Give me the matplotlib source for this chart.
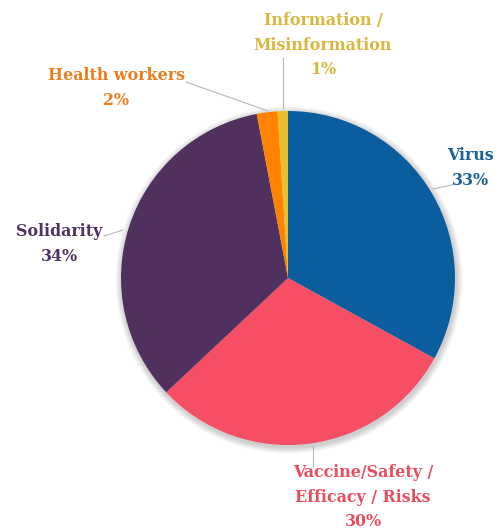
import matplotlib
matplotlib.use("Agg")
import matplotlib.pyplot as plt
from matplotlib.patches import Circle

# Topic shares (percent)
categories = ["Virus", "Vaccine/Safety /\nEfficacy / Risks", "Solidarity",
              "Health workers", "Information /\nMisinformation"]
shares = [33, 30, 34, 2, 1]
slice_colors = ["#0b5e9d", "#f64f64", "#50305f", "#ff8200", "#e8bf2a"]
text_colors = ["#1a5f97", "#e84e5e", "#4f3462", "#ec7d1e", "#d8b840"]

W, H = 500, 529
fig = plt.figure(figsize=(W / 100, H / 100), dpi=100)
ax = fig.add_axes([0, 0, 1, 1])
ax.set_xlim(0, W)
ax.set_ylim(H, 0)
ax.set_aspect("equal")
ax.axis("off")

cx, cy, r = 288, 278, 167

# soft drop shadow behind the pie
for k in range(8):
    ax.add_patch(Circle((cx + 1, cy + 2), r + 1 + k * 0.8, facecolor="#000000",
                        alpha=0.025, edgecolor="none", zorder=0))

# y axis is inverted, so counterclock=True draws clockwise on screen;
# startangle -90 puts the first wedge edge at the top
wedges, _ = ax.pie(shares, colors=slice_colors, startangle=-90, counterclock=True,
                   center=(cx, cy), radius=r, frame=True,
                   wedgeprops=dict(linewidth=0))
ax.set_xlim(0, W)
ax.set_ylim(H, 0)
ax.axis("off")

font = dict(family="DejaVu Serif", fontweight="bold", fontsize=11.4,
            ha="center", va="center", linespacing=1.55)

labels = [f"{c}\n{s}%" for c, s in zip(categories, shares)]
label_pos = [(470, 168), (363, 497), (59, 244), (116, 88), (323, 45)]
for (x, y), txt, col in zip(label_pos, labels, text_colors):
    ax.text(x, y, txt, color=col, **font)

# leader lines
leaders = [((433, 189), (456, 184)),
           ((313, 446), (313, 466)),
           ((123, 230), (104, 236)),
           ((268, 111), (186, 82)),
           ((283, 108), (283, 58))]
for (x0, y0), (x1, y1) in leaders:
    ax.plot([x0, x1], [y0, y1], color="#b8b8b8", linewidth=0.8, zorder=1)

fig.savefig("out.png", dpi=100, facecolor="white")
